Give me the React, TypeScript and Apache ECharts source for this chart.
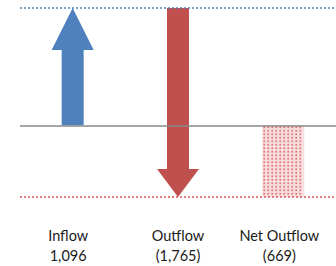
import React, { useEffect, useRef } from "react";
import * as echarts from "echarts";

const categories = ["Inflow", "Outflow", "Net Outflow"];
const valueLabels = ["1,096", "(1,765)", "(669)"];
const inflow = 1096;
const outflow = -1765;
const netOutflow = inflow + outflow; // -669
// [start, end] for each mark
const starts = [0, inflow, 0];
const ends = [inflow, inflow + outflow, netOutflow];

export default function App() {
  const ref = useRef<HTMLDivElement>(null);
  useEffect(() => {
    const chart = echarts.init(ref.current!, undefined, { renderer: "svg" });
    const data = categories.map((c, i) => [i, starts[i], ends[i]]);
    const headLens = [42, 28, 0];
    const colors = ["#4f81bd", "#c0504d", "#c0504d"];
    const base = { fontFamily: "Lato", fontSize: 14.5, color: "#1a1a1a", lineHeight: 20, align: "center" };
    chart.setOption({
      animation: false,
      grid: { left: 20, right: 0, top: 8, bottom: 69 },
      xAxis: {
        type: "category",
        data: categories,
        axisLine: { show: false },
        axisTick: { show: false },
        axisLabel: {
          interval: 0,
          hideOverlap: false,
          margin: 28,
          fontFamily: "Lato",
          fontSize: 14.5,
          color: "#1a1a1a",
          lineHeight: 20,
          formatter: (v: string, i: number) => {
            const k = ["a", "b", "c"][i];
            return `{${k}|${v}}\n{${k}|${valueLabels[i]}}`;
          },
          rich: {
            a: { ...base, padding: [0, 9, 0, 0] },
            b: { ...base, padding: [0, 0, 0, 0] },
            c: { ...base, padding: [0, 8, 0, 0] },
          },
        },
      },
      yAxis: {
        type: "value",
        min: netOutflow,
        max: inflow,
        show: false,
        splitLine: { show: false },
      },
      series: [
        {
          type: "custom",
          data,
          encode: { x: 0, y: [1, 2] },
          renderItem: (params: any, api: any) => {
            const i = api.value(0);
            const s = api.coord([i, api.value(1)]);
            const e = api.coord([i, api.value(2)]);
            const cx = s[0];
            const y0 = s[1];
            const y1 = e[1];
            const dir = y1 < y0 ? -1 : 1;
            if (i === 2) {
              const w = 42;
              const x0 = cx - w / 2;
              const top = Math.min(y0, y1);
              const h = Math.abs(y1 - y0);
              const children: any[] = [
                { type: "rect", shape: { x: x0, y: top, width: w, height: h }, style: { fill: "#f8dede" } },
              ];
              for (let yy = top + 1; yy < top + h - 1; yy += 3.5) {
                for (let xx = x0 + 1; xx < x0 + w - 1; xx += 4) {
                  children.push({
                    type: "rect",
                    shape: { x: xx, y: yy, width: 1.8, height: 1.8 },
                    style: { fill: "#e07b7b" },
                  });
                }
              }
              return { type: "group", children };
            }
            const sw = 11;
            const hw = 21;
            const hl = headLens[i];
            const baseY = y1 - dir * hl;
            const points = [
              [cx - sw, y0],
              [cx + sw, y0],
              [cx + sw, baseY],
              [cx + hw, baseY],
              [cx, y1],
              [cx - hw, baseY],
              [cx - sw, baseY],
            ];
            return {
              type: "polygon",
              shape: { points },
              style: { fill: colors[i] },
            };
          },
          markLine: {
            symbol: "none",
            silent: true,
            label: { show: false },
            data: [
              { yAxis: inflow, lineStyle: { color: "#4f81bd", type: [2, 2], width: 1.5 } },
              { yAxis: 0, lineStyle: { color: "#888888", type: "solid", width: 1.5 } },
              { yAxis: netOutflow, lineStyle: { color: "#e05050", type: [2, 2], width: 1.5 } },
            ],
          },
          z: 2,
        },
      ],
    });
    return () => chart.dispose();
  }, []);
  return <div ref={ref} style={{ width: 336, height: 266, position: "absolute", left: 0, top: 0 }} />;
}
